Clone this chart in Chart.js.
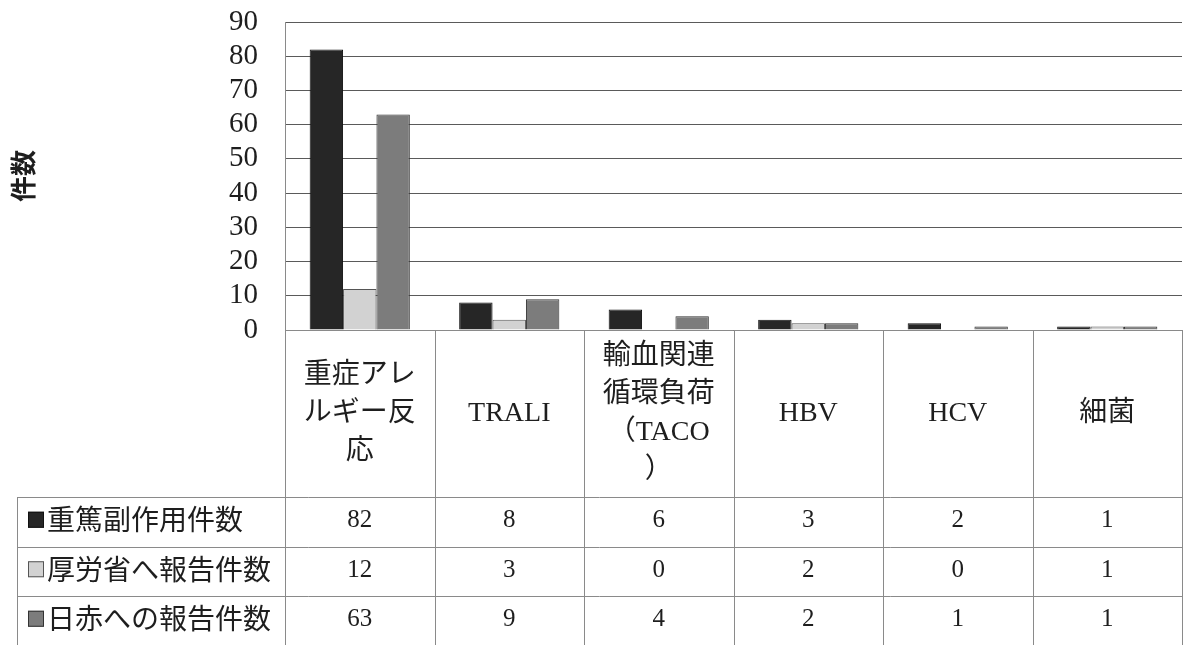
<!DOCTYPE html>
<html>
<head>
<meta charset="utf-8">
<script src="https://cdn.jsdelivr.net/npm/chart.js@4/dist/chart.umd.min.js"></script>
<style>
  html, body { margin: 0; padding: 0; background: #fff; }
  #wrap { width: 1189px; height: 645px; }
</style>
</head>
<body>
<div id="wrap"><canvas id="c" width="1189" height="645"></canvas></div>
<script>
// Category labels, one array of lines per column
const categories = [
  ['重症アレ', 'ルギー反', '応'],
  ['TRALI'],
  ['輸血関連', '循環負荷', '（TACO', '）'],
  ['HBV'],
  ['HCV'],
  ['細菌']
];
const seriesNames = ['重篤副作用件数', '厚労省へ報告件数', '日赤への報告件数'];
const seriousCases = [82, 8, 6, 3, 2, 1];
const reportedToMhlw = [12, 3, 0, 2, 0, 1];
const reportedToJrc = [63, 9, 4, 2, 1, 1];
const yMin = 0, yMax = 90, yStep = 10;

const fills = ['#262626', '#d2d2d2', '#7c7c7c'];
const edges = ['#111111', '#555555', '#333333'];
const seriesValues = [seriousCases, reportedToMhlw, reportedToJrc];

const serifFont = '"Liberation Serif", "Noto Sans CJK JP", serif';
const textColor = '#1e1e1e';

// Draws the data table under the plot: category cells, legend keys and values
const dataTable = {
  id: 'dataTable',
  afterDraw(chart) {
    const ctx = chart.ctx;
    const area = chart.chartArea;
    const xs = chart.scales.x;
    const colW = (area.right - area.left) / categories.length;
    const tableLeft = 17;
    const catBottom = area.bottom + 167;
    const rowH = 49.5;
    const bottom = chart.height;

    ctx.save();
    ctx.strokeStyle = '#8a8a8a';
    ctx.lineWidth = 1;
    ctx.beginPath();
    // top of table
    ctx.moveTo(area.left, area.bottom + 0.5);
    ctx.lineTo(area.right, area.bottom + 0.5);
    // column boundaries
    for (let i = 0; i <= categories.length; i++) {
      const x = Math.round(area.left + i * colW) + 0.5;
      ctx.moveTo(x, area.bottom);
      ctx.lineTo(x, bottom);
    }
    // row lines
    for (let r = 0; r < 3; r++) {
      const y = Math.round(catBottom + r * rowH) + 0.5;
      ctx.moveTo(tableLeft, y);
      ctx.lineTo(area.right, y);
    }
    ctx.moveTo(tableLeft + 0.5, catBottom);
    ctx.lineTo(tableLeft + 0.5, bottom);
    ctx.stroke();

    // category names
    ctx.fillStyle = textColor;
    ctx.textAlign = 'center';
    ctx.textBaseline = 'middle';
    ctx.font = '28px ' + serifFont;
    const lineH = 38;
    const catMid = area.bottom + 84;
    categories.forEach((lines, i) => {
      const cx = xs.getPixelForValue(i);
      const y0 = catMid - (lines.length - 1) * lineH / 2;
      lines.forEach((t, k) => ctx.fillText(t, cx, y0 + k * lineH));
    });

    // legend keys and values
    seriesNames.forEach((name, s) => {
      const cy = catBottom + s * rowH + rowH / 2 - 2;
      ctx.fillStyle = fills[s];
      ctx.strokeStyle = edges[s];
      ctx.fillRect(28, cy - 8, 16, 16);
      ctx.strokeRect(28.5, cy - 7.5, 15, 15);
      ctx.fillStyle = textColor;
      ctx.textAlign = 'left';
      ctx.font = '28px "Noto Sans CJK JP", sans-serif';
      ctx.fillText(name, 47, cy);
      ctx.textAlign = 'center';
      ctx.font = '25px ' + serifFont;
      seriesValues[s].forEach((v, i) => {
        ctx.fillText(String(v), xs.getPixelForValue(i), cy + 1);
      });
    });
    ctx.restore();
  }
};

new Chart(document.getElementById('c'), {
  type: 'bar',
  data: {
    labels: categories,
    datasets: seriesNames.map((name, s) => ({
      label: name,
      data: seriesValues[s],
      backgroundColor: fills[s],
      borderColor: edges[s],
      borderWidth: 1,
      categoryPercentage: 0.67,
      barPercentage: 1.0
    }))
  },
  options: {
    responsive: false,
    animation: false,
    events: [],
    layout: { padding: { top: 22, right: 7, bottom: 0, left: 0 } },
    plugins: {
      legend: { display: false },
      tooltip: { enabled: false }
    },
    scales: {
      x: {
        ticks: { display: false },
        grid: { display: false },
        border: { display: false },
        afterFit(s) { s.height = 315; }
      },
      y: {
        min: yMin,
        max: yMax,
        ticks: {
          stepSize: yStep,
          autoSkip: false,
          padding: 0,
          color: textColor,
          font: { family: serifFont, size: 29 }
        },
        grid: {
          color: '#5a5a5a',
          lineWidth: 1,
          drawTicks: true,
          tickLength: 27,
          tickColor: 'rgba(0,0,0,0)'
        },
        border: { display: true, color: '#8a8a8a' },
        title: {
          display: true,
          text: '件数',
          color: textColor,
          padding: { top: 8, bottom: 0 },
          font: { family: '"Noto Sans CJK JP", sans-serif', size: 26, weight: 'bold' }
        },
        afterFit(s) { s.width = 285; }
      }
    }
  },
  plugins: [dataTable]
});
</script>
</body>
</html>
